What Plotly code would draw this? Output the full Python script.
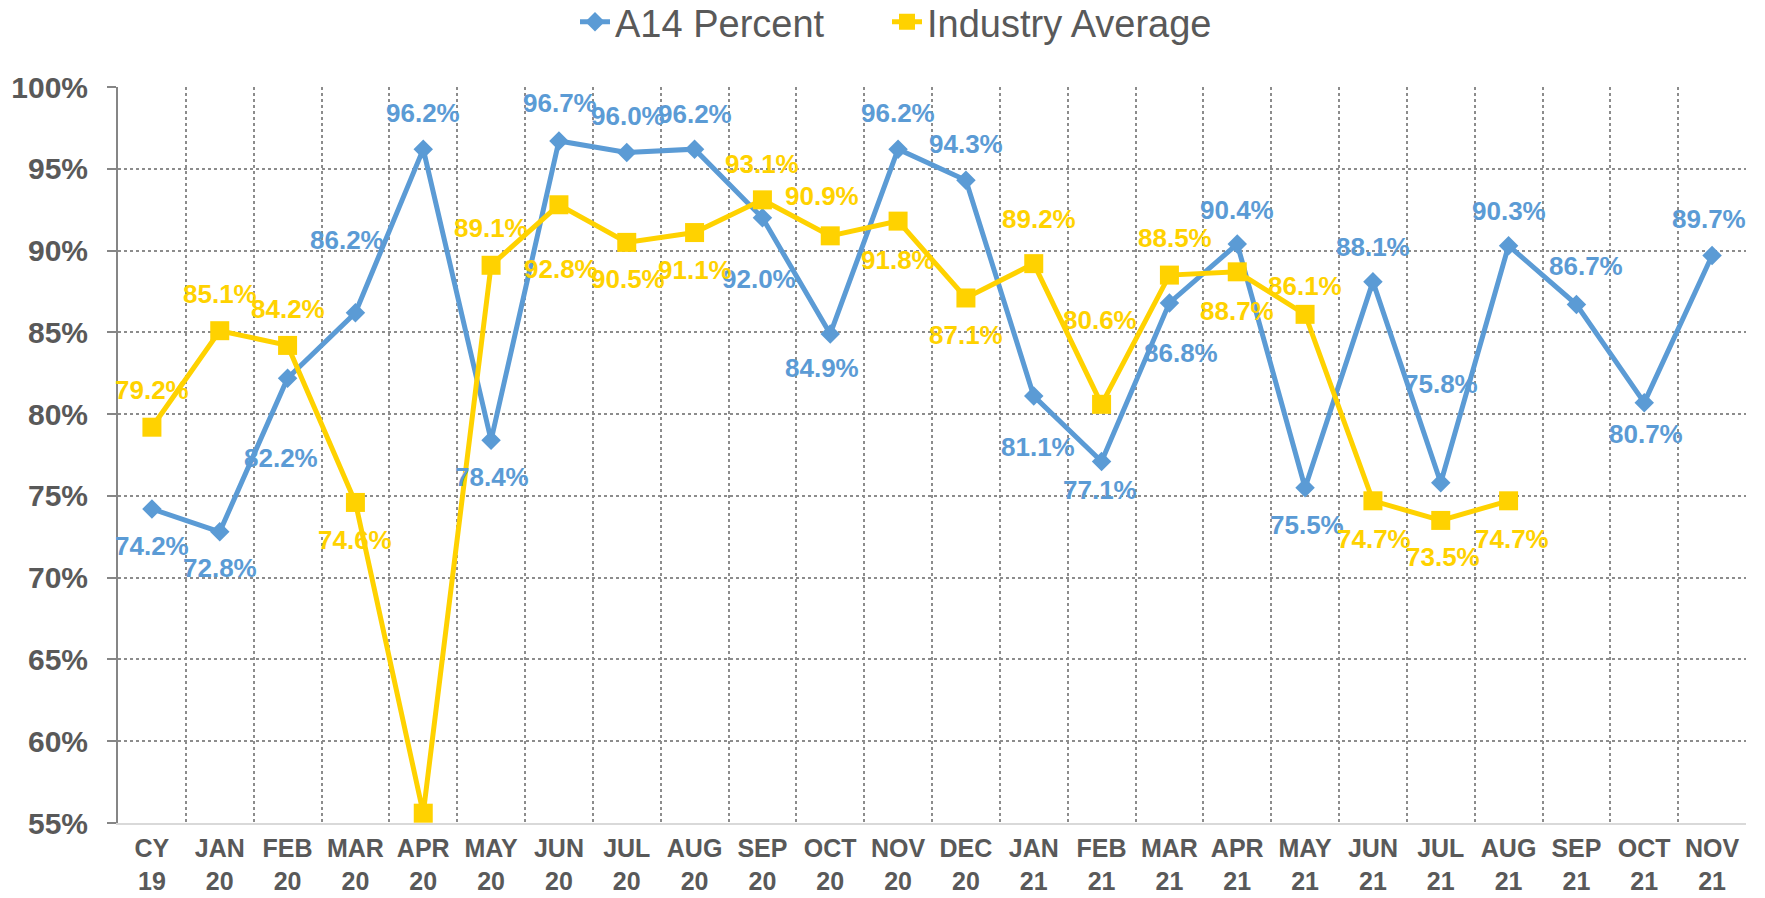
import plotly.graph_objects as go

months = ["CY<br>19", "JAN<br>20", "FEB<br>20", "MAR<br>20", "APR<br>20", "MAY<br>20",
          "JUN<br>20", "JUL<br>20", "AUG<br>20", "SEP<br>20", "OCT<br>20", "NOV<br>20",
          "DEC<br>20", "JAN<br>21", "FEB<br>21", "MAR<br>21", "APR<br>21", "MAY<br>21",
          "JUN<br>21", "JUL<br>21", "AUG<br>21", "SEP<br>21", "OCT<br>21", "NOV<br>21"]

a14_pct = [74.2, 72.8, 82.2, 86.2, 96.2, 78.4, 96.7, 96.0, 96.2, 92.0, 84.9, 96.2,
           94.3, 81.1, 77.1, 86.8, 90.4, 75.5, 88.1, 75.8, 90.3, 86.7, 80.7, 89.7]

industry_avg = [79.2, 85.1, 84.2, 74.6, 55.6, 89.1, 92.8, 90.5, 91.1, 93.1, 90.9, 91.8,
                87.1, 89.2, 80.6, 88.5, 88.7, 86.1, 74.7, 73.5, 74.7, None, None, None]

BLUE = "#5B9BD5"
GOLD = "#FFD200"
GREY = "#595959"

# label nudges in px (dx, dy; dy > 0 means below the point), None = no label
a14_nudge = [(0, 37), (0, 36), (-7, 80), (-8, -73), (0, -36), (1, 37), (1, -38), (1, -36),
             (0, -35), (-3, 61), (-8, 34), (0, -36), (0, -36), (4, 51), (-2, 28), (12, 50),
             (0, -34), (2, 37), (0, -35), (0, -99), (0, -35), (10, -39), (2, 31), (-3, -36)]
ind_nudge = [(0, -37), (0, -37), (0, -36), (0, 38), None, (0, -37), (2, 64), (1, 37),
             (0, 37), (0, -36), (-8, -40), (0, 39), (0, 37), (5, -45), (-2, -84), (6, -37),
             (0, 39), (0, -28), (1, 38), (2, 37), (3, 38), None, None, None]

W, H = 1765, 898

fig = go.Figure()
fig.add_trace(go.Scatter(x=months, y=a14_pct, name="A14 Percent", mode="lines+markers",
                         line=dict(color=BLUE, width=5), legend="legend",
                         marker=dict(symbol="diamond", size=15, color=BLUE)))
fig.add_trace(go.Scatter(x=months, y=industry_avg, name="Industry Average", mode="lines+markers",
                         line=dict(color=GOLD, width=5), legend="legend2",
                         marker=dict(symbol="square", size=19, color=GOLD)))

for vals, nudges, col in [(a14_pct, a14_nudge, BLUE), (industry_avg, ind_nudge, GOLD)]:
    for m, v, n in zip(months, vals, nudges):
        if v is None or n is None:
            continue
        fig.add_annotation(x=m, y=v, text=f"{v:.1f}%", showarrow=False,
                           xshift=n[0], yshift=-n[1],
                           font=dict(family="Liberation Sans, Arial", size=26,
                                     color=col, weight="bold"))

leg = dict(orientation="h", xref="container", yref="container", xanchor="left",
           y=1 - 22 / H, yanchor="middle", font=dict(size=38, color=GREY),
           bgcolor="rgba(0,0,0,0)")

fig.update_layout(
    width=W, height=H,
    margin=dict(l=118, r=19, t=87, b=75, autoexpand=False),
    plot_bgcolor="white", paper_bgcolor="white",
    font=dict(family="Liberation Sans, Arial", color=GREY),
    legend=dict(leg, x=(617 - 42) / W),
    legend2=dict(leg, x=(929 - 42) / W),
    showlegend=True,
)
fig.update_xaxes(type="category", tickson="boundaries", range=[-0.5, 23.5],
                 automargin=False,
                 showgrid=True, gridcolor="#8c8c8c", griddash="dot", gridwidth=1.5,
                 showline=True, linecolor="#d9d9d9", linewidth=2,
                 ticks="", ticklabelstandoff=2,
                 tickfont=dict(size=25, color=GREY, weight="bold"))
fig.update_yaxes(range=[55, 100], dtick=5, ticksuffix="%", automargin=False,
                 showgrid=True, gridcolor="#8c8c8c", griddash="dot", gridwidth=1.5,
                 showline=True, linecolor="#868686", linewidth=2,
                 ticks="outside", ticklen=9, tickcolor="#868686", tickwidth=2,
                 ticklabelstandoff=13, zeroline=False,
                 tickfont=dict(size=30, color=GREY, weight="bold"))

# drop the default body margin so the chart fills the window
fig.write_html("out.html", config={"displayModeBar": False},
               post_script="document.body.style.margin = '0';")
